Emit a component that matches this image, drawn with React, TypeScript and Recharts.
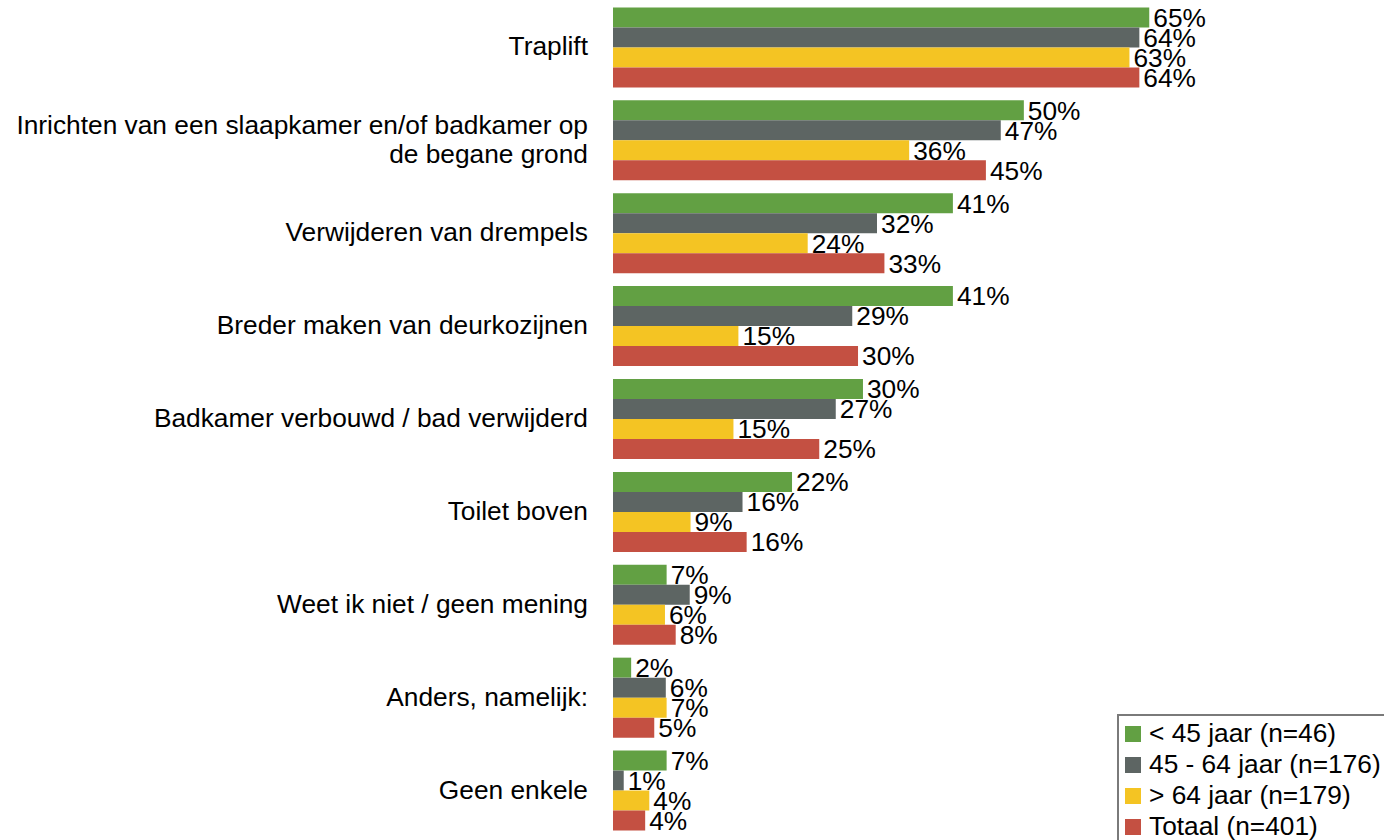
import React from "react";
import { Bar, BarChart, LabelList, XAxis, YAxis } from "recharts";

const categories = [
  "Traplift",
  "Inrichten van een slaapkamer en/of badkamer op\nde begane grond",
  "Verwijderen van drempels",
  "Breder maken van deurkozijnen",
  "Badkamer verbouwd / bad verwijderd",
  "Toilet boven",
  "Weet ik niet / geen mening",
  "Anders, namelijk:",
  "Geen enkele",
];

const under45 = [65.0, 49.8, 41.2, 41.2, 30.3, 21.7, 6.5, 2.2, 6.5];
const from45to64 = [63.8, 47.0, 32.0, 29.0, 27.0, 15.7, 9.3, 6.4, 1.3];
const over64 = [62.6, 35.9, 23.6, 15.2, 14.6, 9.4, 6.3, 6.5, 4.4];
const total = [63.8, 45.2, 32.9, 29.7, 25.0, 16.2, 7.6, 5.0, 3.9];

const seriesNames = [
  "< 45 jaar (n=46)",
  "45 - 64 jaar (n=176)",
  "> 64 jaar (n=179)",
  "Totaal (n=401)",
];
const colors = ["#62A043", "#5D6563", "#F4C423", "#C45042"];

const data = categories.map((name, i) => ({
  name,
  a: under45[i],
  b: from45to64[i],
  c: over64[i],
  d: total[i],
}));

const keys = ["a", "b", "c", "d"];
const FONT = "'Liberation Sans', Arial, sans-serif";
const FS = 26.3;

function CategoryTick(props: any) {
  const { x, y, payload } = props;
  const lines = String(payload.value).split("\n");
  const lineH = 29;
  const start = -((lines.length - 1) * lineH) / 2;
  return (
    <text x={x - 17} y={y} textAnchor="end" fontSize={FS} fontFamily={FONT} fill="#000">
      {lines.map((l, i) => (
        <tspan key={i} x={x - 17} dy={i === 0 ? start + 9 : lineH}>
          {l}
        </tspan>
      ))}
    </text>
  );
}

function LegendBox() {
  return (
    <div
      style={{
        position: "absolute",
        left: 1117,
        top: 714,
        width: 275,
        border: "2px solid #7a7a7a",
        background: "#fff",
        padding: "2px 8px 6px 6px",
        fontFamily: FONT,
        fontSize: FS,
        color: "#000",
        boxSizing: "border-box",
      }}
    >
      {seriesNames.map((n, i) => (
        <div key={n} style={{ display: "flex", alignItems: "center", height: 31 }}>
          <span
            style={{
              display: "inline-block",
              flexShrink: 0,
              width: 16,
              height: 16,
              background: colors[i],
              marginRight: 8,
            }}
          />
          <span style={{ whiteSpace: "nowrap" }}>{n}</span>
        </div>
      ))}
    </div>
  );
}

export default function App() {
  return (
    <div style={{ position: "absolute", left: 0, top: 0, width: 1384, height: 840, overflow: "hidden" }}>
      <BarChart
        width={1384}
        height={840}
        data={data}
        layout="vertical"
        margin={{ top: 0, right: 111, bottom: 4, left: 0 }}
        barCategoryGap="8%"
        barGap={0}
        style={{ fontFamily: FONT }}
      >
        <XAxis type="number" domain={[0, 80]} hide />
        <YAxis
          type="category"
          dataKey="name"
          width={613}
          axisLine={false}
          tickLine={false}
          tick={<CategoryTick />}
          interval={0}
        />
        {keys.map((k, i) => (
          <Bar key={k} dataKey={k} fill={colors[i]} isAnimationActive={false}>
            <LabelList
              dataKey={k}
              position="right"
              offset={4}
              formatter={(v: any) => `${Math.round(Number(v))}%`}
              style={{ fontSize: FS, fontFamily: FONT, fill: "#000" }}
            />
          </Bar>
        ))}
      </BarChart>
      <LegendBox />
    </div>
  );
}
